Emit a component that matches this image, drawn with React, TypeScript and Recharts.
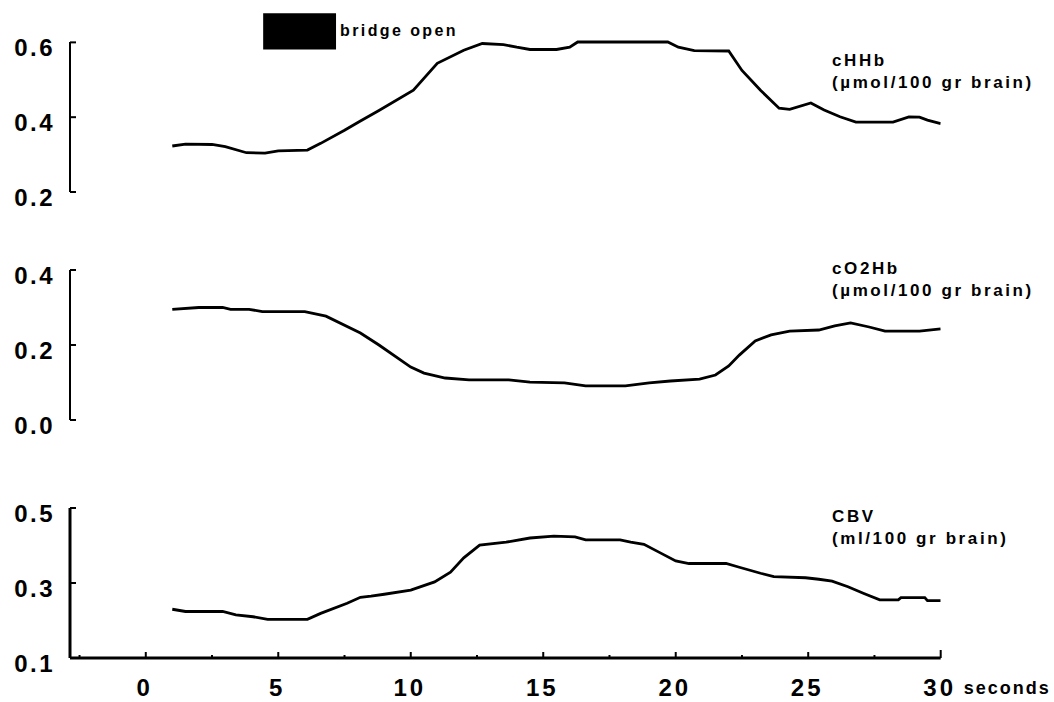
import React from 'react';
import { LineChart, Line, XAxis, YAxis, ReferenceArea } from 'recharts';

// Time axis (seconds)
const timeDomain: [number, number] = [-2.86, 30];
const timeTicks = [-2.5, 0, 2.5, 5, 7.5, 10, 12.5, 15, 17.5, 20, 22.5, 25, 27.5, 30];

// cHHb (µmol/100 gr brain)
const hhbTime = [1.0, 1.5, 2.5, 3.0, 3.8, 4.5, 5.0, 6.1, 6.6, 7.5, 8.1, 8.8, 10.1, 11.0, 12.0, 12.7, 13.5, 14.0, 14.5, 15.5, 16.0, 16.3, 19.7, 20.1, 20.7, 22.0, 22.5, 23.2, 23.9, 24.3, 25.1, 25.6, 26.2, 26.8, 28.2, 28.8, 29.2, 29.5, 30.0];
const hhbValues = [0.323, 0.328, 0.327, 0.321, 0.305, 0.304, 0.31, 0.312, 0.33, 0.365, 0.39, 0.418, 0.472, 0.544, 0.579, 0.597, 0.594, 0.587, 0.581, 0.581, 0.587, 0.601, 0.601, 0.587, 0.578, 0.577, 0.525, 0.472, 0.424, 0.421, 0.438, 0.419, 0.401, 0.387, 0.387, 0.401, 0.4, 0.392, 0.383];
const hhbTicks = [0.2, 0.4, 0.6];

// cO2Hb (µmol/100 gr brain)
const o2hbTime = [1.0, 2.0, 2.9, 3.2, 3.9, 4.4, 6.0, 6.8, 8.1, 8.8, 10.0, 10.5, 11.3, 12.2, 13.7, 14.5, 15.8, 16.6, 18.1, 19.0, 19.8, 20.9, 21.5, 22.0, 22.4, 23.0, 23.6, 24.3, 25.4, 26.0, 26.6, 27.3, 27.9, 29.2, 30.0];
const o2hbValues = [0.295, 0.3, 0.3, 0.295, 0.295, 0.289, 0.289, 0.277, 0.232, 0.2, 0.141, 0.125, 0.112, 0.107, 0.107, 0.101, 0.099, 0.091, 0.091, 0.099, 0.104, 0.109, 0.12, 0.144, 0.173, 0.211, 0.227, 0.237, 0.24, 0.251, 0.259, 0.248, 0.237, 0.237, 0.243];
const o2hbTicks = [0.0, 0.2, 0.4];

// CBV (ml/100 gr brain)
const cbvTime = [1.0, 1.5, 2.9, 3.4, 4.05, 4.6, 6.1, 6.6, 7.6, 8.1, 8.5, 9.0, 10.0, 10.9, 11.5, 12.0, 12.6, 13.6, 14.5, 15.4, 16.2, 16.6, 17.9, 18.3, 18.8, 19.4, 20.0, 20.5, 21.9, 22.4, 23.2, 23.7, 24.9, 25.4, 25.9, 26.5, 27.1, 27.7, 28.4, 28.5, 29.4, 29.5, 30.0];
const cbvValues = [0.23, 0.224, 0.224, 0.215, 0.21, 0.203, 0.203, 0.219, 0.246, 0.262, 0.265, 0.27, 0.281, 0.303, 0.329, 0.367, 0.401, 0.409, 0.42, 0.425, 0.423, 0.415, 0.415, 0.409, 0.403, 0.381, 0.359, 0.352, 0.352, 0.342, 0.326, 0.317, 0.314, 0.31, 0.305, 0.29, 0.272, 0.255, 0.255, 0.261, 0.261, 0.253, 0.253];
const cbvTicks = [0.1, 0.3, 0.5];

// bridge open interval (s) and marker height on the cHHb scale
const bridgeStart = 4.43;
const bridgeEnd = 7.18;
const bridgeLow = 0.581;
const bridgeHigh = 0.678;

const toPoints = (time: number[], values: number[]) =>
  time.map((t, i) => ({ t, v: values[i] }));

const FONT = '"Liberation Sans", Arial, sans-serif';
const WIDTH = 1054;
const PLOT_MARGIN = { left: 10, right: 113.3 };

const YTick = (props: any) => {
  const { x, y, payload } = props;
  return (
    <g>
      <line x1={x} y1={y} x2={x + 6} y2={y} stroke="#000" strokeWidth={2} />
      <text
        x={x - 15}
        y={y + 14}
        textAnchor="end"
        fontFamily={FONT}
        fontWeight="bold"
        fontSize={24}
        letterSpacing={2.5}
        fill="#000"
      >
        {Number(payload.value).toFixed(1)}
      </text>
    </g>
  );
};

// ticks point up into the plot; every 5 s gets a number
const XTick = (props: any) => {
  const { x, y, payload } = props;
  const major = payload.value % 5 === 0;
  const len = payload.value === 30 ? 8 : major ? 6 : 3;
  return (
    <g>
      <line x1={x} y1={y} x2={x} y2={y - len} stroke="#000" strokeWidth={2} />
      {major && (
        <text
          x={x - 1}
          y={y + 38}
          textAnchor="middle"
          fontFamily={FONT}
          fontWeight="bold"
          fontSize={24}
          letterSpacing={3}
          fill="#000"
        >
          {payload.value}
        </text>
      )}
    </g>
  );
};

const SecondsLabel = (props: any) => {
  const { viewBox } = props;
  return (
    <text
      x={viewBox.x + viewBox.width + 23}
      y={viewBox.y + 36}
      fontFamily={FONT}
      fontWeight="bold"
      fontSize={18}
      letterSpacing={2}
      fill="#000"
    >
      seconds
    </text>
  );
};

const BridgeLabel = (props: any) => {
  const { viewBox } = props;
  return (
    <text
      x={viewBox.x + viewBox.width + 4}
      y={viewBox.y + viewBox.height / 2 + 5}
      fontFamily={FONT}
      fontWeight="bold"
      fontSize={16}
      letterSpacing={2.4}
      fill="#000"
    >
      bridge open
    </text>
  );
};

const SeriesTitle = ({ top, name, unit }: { top: number; name: string; unit: string }) => (
  <div
    style={{
      position: 'absolute',
      left: 832,
      top,
      fontFamily: FONT,
      fontWeight: 'bold',
      fontSize: 17,
      lineHeight: '22px',
      letterSpacing: 2.6,
      color: '#000',
      whiteSpace: 'nowrap',
    }}
  >
    <div>{name}</div>
    <div>{unit}</div>
  </div>
);

interface PanelProps {
  top: number;
  height: number;
  marginTop: number;
  marginBottom: number;
  data: { t: number; v: number }[];
  domain: [number, number];
  ticks: number[];
  axisWidth: number;
  showTime?: boolean;
  children?: React.ReactNode;
}

const Panel = ({ top, height, marginTop, marginBottom, data, domain, ticks, axisWidth, showTime, children }: PanelProps) => (
  <div style={{ position: 'absolute', left: 0, top }}>
    <LineChart
      width={WIDTH}
      height={height}
      data={data}
      margin={{ top: marginTop, bottom: marginBottom, ...PLOT_MARGIN }}
    >
      <XAxis
        dataKey="t"
        type="number"
        domain={timeDomain}
        ticks={timeTicks}
        allowDataOverflow
        hide={!showTime}
        height={44}
        axisLine={{ stroke: '#000', strokeWidth: 3 }}
        tickLine={false}
        tickSize={0}
        tickMargin={0}
        tick={<XTick />}
        interval={0}
        label={{ content: SecondsLabel }}
      />
      <YAxis
        type="number"
        domain={domain}
        ticks={ticks}
        width={60}
        axisLine={{ stroke: '#000', strokeWidth: axisWidth }}
        tickLine={false}
        tickSize={0}
        tickMargin={0}
        tick={<YTick />}
        interval={0}
      />
      {children}
      <Line
        dataKey="v"
        type="linear"
        stroke="#000"
        strokeWidth={2.8}
        dot={false}
        activeDot={false}
        isAnimationActive={false}
      />
    </LineChart>
  </div>
);

export default function App() {
  return (
    <div
      style={{
        position: 'absolute',
        left: 0,
        top: 0,
        width: WIDTH,
        height: 702,
        background: '#fff',
        overflow: 'hidden',
      }}
    >
      <Panel
        top={0}
        height={230}
        marginTop={42}
        marginBottom={38}
        data={toPoints(hhbTime, hhbValues)}
        domain={[0.2, 0.6]}
        ticks={hhbTicks}
        axisWidth={2}
      >
        <ReferenceArea
          x1={bridgeStart}
          x2={bridgeEnd}
          y1={bridgeLow}
          y2={bridgeHigh}
          fill="#000"
          fillOpacity={1}
          stroke="none"
          ifOverflow="visible"
          label={BridgeLabel}
        />
      </Panel>
      <Panel
        top={230}
        height={230}
        marginTop={40}
        marginBottom={40}
        data={toPoints(o2hbTime, o2hbValues)}
        domain={[0, 0.4]}
        ticks={o2hbTicks}
        axisWidth={2}
      />
      <Panel
        top={460}
        height={242}
        marginTop={48}
        marginBottom={0}
        data={toPoints(cbvTime, cbvValues)}
        domain={[0.1, 0.5]}
        ticks={cbvTicks}
        axisWidth={3}
        showTime
      />
      <SeriesTitle top={50} name="cHHb" unit="(µmol/100 gr brain)" />
      <SeriesTitle top={258} name="cO2Hb" unit="(µmol/100 gr brain)" />
      <SeriesTitle top={506} name="CBV" unit="(ml/100 gr brain)" />
    </div>
  );
}
